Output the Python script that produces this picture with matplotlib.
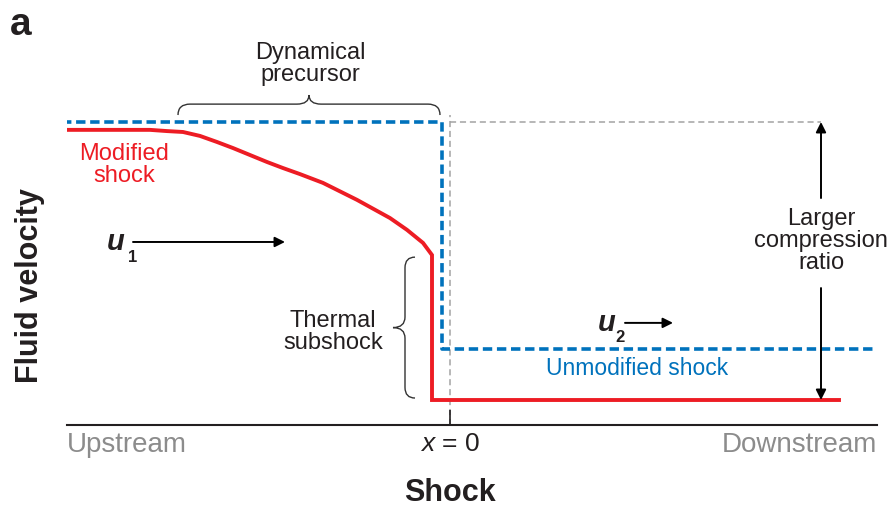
import matplotlib
matplotlib.use('Agg')
import matplotlib.pyplot as plt
from matplotlib.path import Path
from matplotlib.patches import PathPatch

plt.rcParams['font.family'] = ['Liberation Sans', 'DejaVu Sans']
plt.rcParams['mathtext.fontset'] = 'custom'
plt.rcParams['mathtext.it'] = 'Liberation Sans:italic'
plt.rcParams['mathtext.rm'] = 'Liberation Sans'

RED, BLUE, GREY, INK = '#ed1c24', '#0072bc', '#a3a3a3', '#231f20'

# --- velocity profiles (position relative to shock, velocity in units of u1) ---
mod_x = [-3.88, -3.00, -2.83, -2.67, -2.50, -2.33, -2.17, -2.00, -1.83, -1.67, -1.50,
         -1.27, -0.93, -0.60, -0.43, -0.27, -0.18, -0.18, 3.89]
mod_v = [0.974, 0.974, 0.970, 0.967, 0.954, 0.934, 0.914, 0.891, 0.868, 0.848, 0.828,
         0.799, 0.743, 0.683, 0.644, 0.601, 0.561, 0.0825, 0.0825]
unmod_x = [-3.88, -0.08, -0.08, 4.25]
unmod_v = [1.0, 1.0, 0.251, 0.251]
shock_x, guide_top, guide_end = 0.0, 1.023, 3.71
u1_level, u2_mod = 1.0, 0.0825

XLIM = (-3.83, 4.27)
YLIM = (0.0, 1.4026)


def brace(ax, a0, a1, c_end, c_mid, c_tip, r, horizontal=True, **kw):
    am = 0.5 * (a0 + a1)
    pts = [(a0, c_end), (a0, c_mid), (a0 + r, c_mid), (am - r, c_mid),
           (am, c_mid), (am, c_tip), (am, c_mid), (am + r, c_mid),
           (a1 - r, c_mid), (a1, c_mid), (a1, c_end)]
    codes = [Path.MOVETO, Path.CURVE3, Path.CURVE3, Path.LINETO,
             Path.CURVE3, Path.CURVE3, Path.CURVE3, Path.CURVE3,
             Path.LINETO, Path.CURVE3, Path.CURVE3]
    if not horizontal:
        pts = [(c, a) for a, c in pts]
    ax.add_patch(PathPatch(Path(pts, codes), fill=False, **kw))


fig = plt.figure(figsize=(8.93, 5.08), dpi=100)
ax = fig.add_axes([67 / 893, 83 / 508, 810 / 893, 425 / 508])
ax.set_xlim(*XLIM)
ax.set_ylim(*YLIM)
for s in ['top', 'right', 'left']:
    ax.spines[s].set_visible(False)
ax.spines['bottom'].set_linewidth(1.5)
ax.spines['bottom'].set_color(INK)
ax.set_yticks([])
ax.set_xticks([shock_x])
ax.set_xticklabels([r'$x$ = 0'], fontsize=19, color=INK)
ax.tick_params(axis='x', direction='in', length=11, width=1.2, pad=5, color=INK)

# grey guides: shock position and upstream velocity level
ax.plot([shock_x, shock_x], [0, guide_top], color=GREY, lw=1.1, dashes=(4, 2.5), zorder=1)
ax.plot([shock_x, guide_end], [u1_level, u1_level], color=GREY, lw=1.1, dashes=(4, 2.5), zorder=1)
ax.plot(unmod_x, unmod_v, color=BLUE, lw=2.6, dashes=(2.6, 1.3), zorder=2)
ax.plot(mod_x, mod_v, color=RED, lw=2.8, solid_joinstyle='miter', zorder=3)

# compression ratio double arrow
arr = dict(arrowstyle='-|>', color='black', lw=1.4, mutation_scale=15, shrinkA=0, shrinkB=0)
ax.annotate('', xy=(guide_end, u1_level), xytext=(guide_end, 0.749), arrowprops=arr)
ax.annotate('', xy=(guide_end, u2_mod), xytext=(guide_end, 0.452), arrowprops=arr)
ax.text(guide_end, 0.607, 'Larger\ncompression\nratio', ha='center', va='center',
        fontsize=17, color=INK, linespacing=1.0, clip_on=False)

# flow arrows
ax.annotate('', xy=(-1.65, 0.604), xytext=(-3.17, 0.604), arrowprops=arr)
ax.annotate('', xy=(2.23, 0.337), xytext=(1.75, 0.337), arrowprops=arr)
ax.text(-3.34, 0.604, 'u', fontsize=21, fontweight='bold', style='italic', ha='center', va='center', color=INK)
ax.text(-3.175, 0.552, '1', fontsize=12, fontweight='bold', ha='center', va='center', color=INK)
ax.text(1.57, 0.338, 'u', fontsize=21, fontweight='bold', style='italic', ha='center', va='center', color=INK)
ax.text(1.695, 0.289, '2', fontsize=12, fontweight='bold', ha='center', va='center', color=INK)

# braces and labels
brace(ax, -2.72, -0.10, 1.023, 1.059, 1.089, 0.12, horizontal=True, color='#333333', lw=1.0)
ax.text(-1.40, 1.191, 'Dynamical\nprecursor', ha='center', va='center', fontsize=17,
        color=INK, linespacing=1.0)
brace(ax, 0.089, 0.554, -0.35, -0.45, -0.57, 0.035, horizontal=False, color='#333333', lw=1.0)
ax.text(-1.17, 0.307, 'Thermal\nsubshock', ha='center', va='center', fontsize=17,
        color=INK, linespacing=1.0)
ax.text(-3.26, 0.858, 'Modified\nshock', ha='center', va='center', fontsize=17,
        color=RED, linespacing=0.95)
ax.text(1.87, 0.188, 'Unmodified shock', ha='center', va='center', fontsize=16.5, color=BLUE)

ax.text(XLIM[0], -0.047, 'Upstream', transform=ax.get_xaxis_transform(), ha='left',
        va='center', fontsize=20, color='#8c8c8c')
ax.text(XLIM[1], -0.047, 'Downstream', transform=ax.get_xaxis_transform(), ha='right',
        va='center', fontsize=20, color='#8c8c8c')

ax.set_xlabel('Shock', fontsize=22, fontweight='bold', color=INK)
ax.xaxis.label.set_va('center')
ax.xaxis.set_label_coords(0.473, -0.16)
ax.set_ylabel('Fluid velocity', fontsize=22, fontweight='bold', color=INK)
ax.yaxis.label.set_va('center')
ax.yaxis.set_label_coords(-0.046, 0.329)

fig.text(10 / 893, 1 - 25 / 508, 'a', fontsize=28, fontweight='bold', ha='left', va='center', color=INK)

fig.savefig('out.png', dpi=100)
